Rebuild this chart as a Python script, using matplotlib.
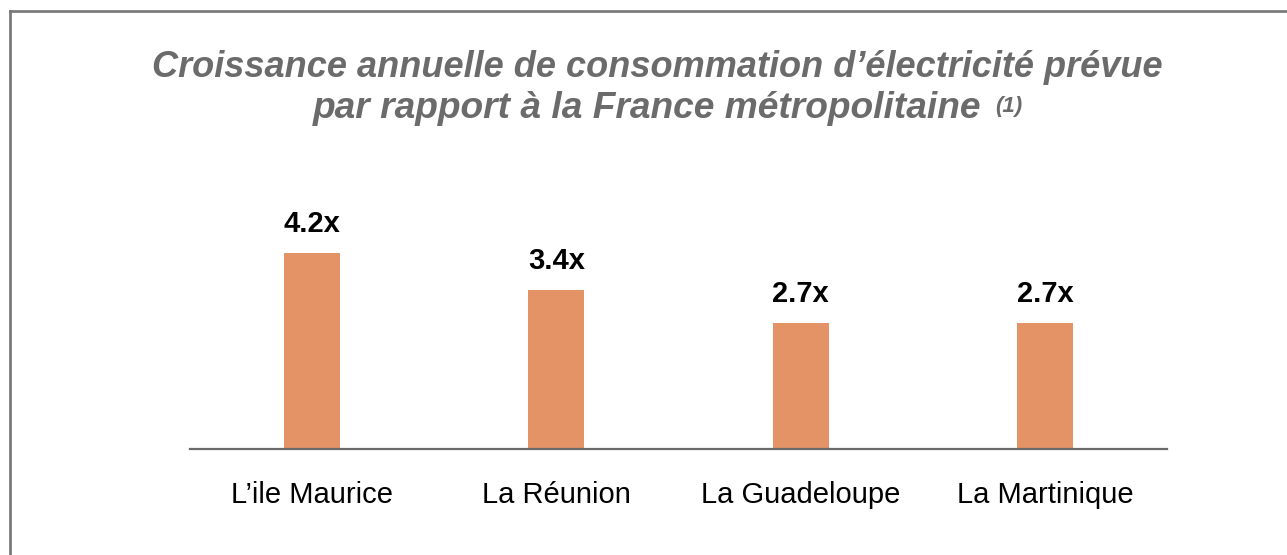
import matplotlib
matplotlib.use("Agg")
import matplotlib.pyplot as plt
from matplotlib.lines import Line2D

plt.rcParams['font.family'] = ['Liberation Sans', 'DejaVu Sans']

regions = ["L’ile Maurice", "La Réunion", "La Guadeloupe", "La Martinique"]
growth = [4.2, 3.4, 2.7, 2.7]
value_labels = ["4.2x", "3.4x", "2.7x", "2.7x"]

title_line1 = "Croissance annuelle de consommation d’électricité prévue"
title_line2 = "par rapport à la France métropolitaine"
title_note = "(1)"

W, H = 1287, 555
fig = plt.figure(figsize=(W / 100, H / 100), dpi=100)

# axes placed in pixel terms of the reference
left, right, base, top = 190, 1167, 449, 239
ax = fig.add_axes([left / W, 1 - base / H, (right - left) / W, (base - top) / H])

x = range(len(regions))
ax.bar(x, growth, width=0.23, color='#E39366')
ax.set_xlim(-0.5, len(regions) - 0.5)
ax.set_ylim(0, 4.5)

for i, (v, lab) in enumerate(zip(growth, value_labels)):
    ax.annotate(lab, (i, v), xytext=(0, 21), textcoords='offset points',
                ha='center', va='center', fontsize=21, fontweight='bold',
                color='black', annotation_clip=False)

ax.set_xticks(list(x))
ax.set_xticklabels(regions, fontsize=21)
ax.tick_params(axis='x', length=0, pad=23)
ax.set_yticks([])
for s in ['top', 'right', 'left']:
    ax.spines[s].set_visible(False)
ax.spines['bottom'].set_color('#6A6A6A')
ax.spines['bottom'].set_linewidth(1.6)

# title, two lines, with a raised note after the second one
gray = '#6B6B6B'
fig.text(657 / W, 1 - 77 / H, title_line1, ha='center', va='baseline',
         fontsize=26, fontweight='bold', fontstyle='italic', color=gray)
t2 = fig.text(313 / W, 1 - 118 / H, title_line2, ha='left', va='baseline',
              fontsize=26.7, fontweight='bold', fontstyle='italic', color=gray)
fig.canvas.draw()
bb = t2.get_window_extent()
fig.text((bb.x1 + 14) / W, 1 - 112 / H, title_note, ha='left', va='baseline',
         fontsize=16, fontweight='bold', fontstyle='italic', color=gray)

# frame around the slide (top and left visible)
fig.add_artist(Line2D([10 / W, 10 / W], [0, 1 - 11 / H], transform=fig.transFigure,
                      color='#7A7A7A', lw=2))
fig.add_artist(Line2D([10 / W, 1], [1 - 11 / H, 1 - 11 / H], transform=fig.transFigure,
                      color='#7A7A7A', lw=2))

fig.savefig('out.png', dpi=100)
